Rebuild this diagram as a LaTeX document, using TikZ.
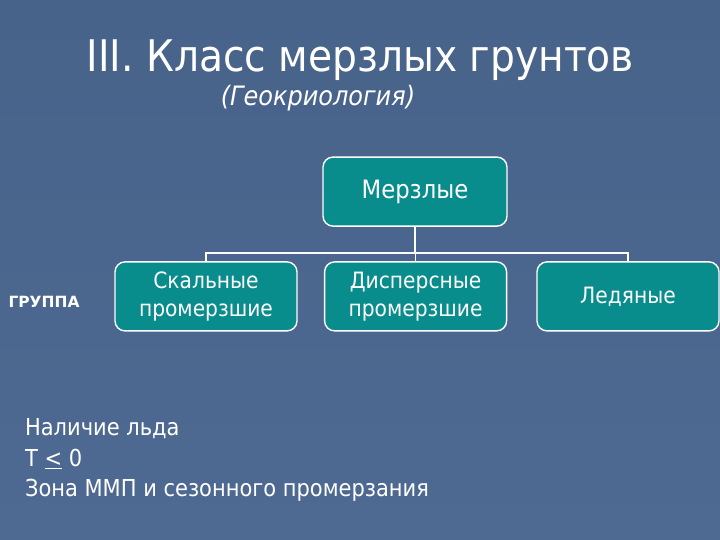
\documentclass[tikz,border=0pt]{standalone}
\usepackage{fontspec}
\setmainfont{DejaVu Sans Condensed}
\newfontfamily\policelarge{DejaVu Sans}
\usetikzlibrary{positioning}
\definecolor{fond}{RGB}{78,106,146}
\definecolor{fondhaut}{RGB}{72,99,138}
\definecolor{sarcelle}{RGB}{8,140,140}
\tikzset{
  boite/.style={draw=white, line width=1pt, fill=sarcelle, rounded corners=0.25cm,
    minimum width=4.55cm, minimum height=1.725cm, align=center, text=white,
    font=\fontsize{16}{20}\selectfont},
  lien/.style={draw=white, line width=1.2pt},
  texte/.style={text=white, inner sep=0pt}
}
\begin{document}
\begin{tikzpicture}
% fond 720x540 px, 1 px = 0.025 cm
\shade[top color=fondhaut, bottom color=fond] (0,0) rectangle (18,13.5);
\useasboundingbox (0,0) rectangle (18,13.5);

% titres
\node[texte, anchor=base, font=\fontsize{31}{34}\selectfont] (titre) at (9.01,11.7) {III. Класс мерзлых грунтов};
\node[texte, anchor=base, font=\fontsize{19}{22}\selectfont\itshape] (sous) at (7.95,10.85) {(Геокриология)};

% boites
\node[boite, minimum width=4.6cm, font=\fontsize{18}{20}\selectfont] (merz) at (10.375,8.71) {Мерзлые};
\node[boite] (skal) at (5.15,6.09) {Скальные\\промерзшие};
\node[boite] (disp) at (10.39,6.09) {Дисперсные\\промерзшие};
\node[boite] (led) at (15.7,6.09) {Ледяные};

% liens
\foreach \b in {skal,disp,led}
  \draw[lien] (merz.south) |- ([yshift=0.2cm]\b.north) -- (\b.north);

\node[texte, font=\policelarge\bfseries\fontsize{11}{13}\selectfont] (groupe) at (1.1,5.95) {ГРУППА};

% texte du bas
\node[texte, anchor=west, align=left, font=\fontsize{16.6}{21.9}\selectfont] (bas) at (0.62,2.0)
  {Наличие льда\\T \underline{<} 0\\Зона ММП и сезонного промерзания};
\end{tikzpicture}
\end{document}
